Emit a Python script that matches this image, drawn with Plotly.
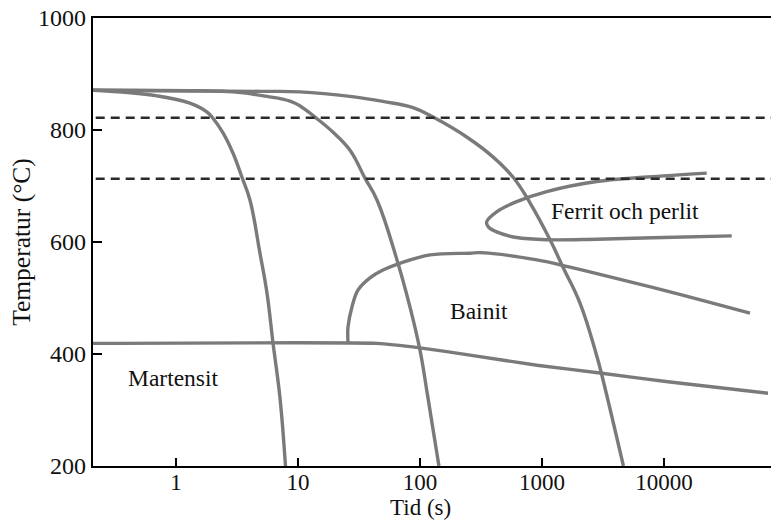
import math
import plotly.graph_objects as go

# Cooling curves (time in s, temperature in °C)
cool_fast_t = [0.209, 0.70, 1.30, 1.80, 2.01, 2.43, 2.93, 3.47, 4.04, 4.88, 5.57, 6.24, 7.11, 7.9]
cool_fast_T = [871, 861, 848, 832, 821, 795, 759, 716, 675, 580, 509, 420, 323, 200]

cool_mid_t = [0.209, 1.5, 2.93, 5.57, 8.5, 10.4, 13.8, 19.4, 26.7, 35.4, 44.4, 64.8, 82.8, 100, 116, 143]
cool_mid_T = [871, 870, 868, 860, 852, 843, 823, 796, 764, 714, 675, 568, 484, 407, 323, 200]

cool_slow_t = [0.209, 5.0, 10.4, 26.7, 49.7, 87.7, 128, 243, 396, 578, 797, 1164, 1486, 2049, 2824, 3162, 4650]
cool_slow_T = [871, 869, 868, 860, 851, 840, 823, 787, 752, 716, 670, 604, 555, 491, 395, 354, 200]

# Ferrite / pearlite transformation C-curve
fp_t = [22400, 9860, 2807, 1093, 620, 425, 352, 363, 425, 620, 1093, 2807, 9860, 35900]
fp_T = [723, 718, 708, 690, 672, 654, 636, 627, 618, 608, 604, 605, 608, 611]

# Bainite start curve
bain_t = [25.7, 25.7, 27.7, 31.0, 38.9, 49.7, 68.6, 121, 257, 310, 910, 1698, 3162, 11200, 50700]
bain_T = [421, 448, 484, 514, 536, 550, 562, 577, 580, 581, 568, 555, 541, 511, 473]

# Martensite start line
mart_t = [0.209, 44.4, 100, 257, 910, 2987, 11200, 71200]
mart_T = [419, 419, 411, 398, 380, 366, 350, 330]

# Critical temperatures (dashed)
crit_T = [822, 713]

# Region labels
region_names = ["Martensit", "Bainit", "Ferrit och perlit"]
region_t = [0.954, 303, 4764]
region_T = [357, 477, 655]

x_ticks = [1, 10, 100, 1000, 10000]
y_ticks = [200, 400, 600, 800, 1000]

curve_color = "#7a7a7a"
font_family = "Liberation Serif, Times New Roman, serif"

fig = go.Figure()


def add_curve(t, T, shape="spline", smoothing=1.2):
    fig.add_trace(go.Scatter(
        x=t, y=T, mode="lines",
        line=dict(color=curve_color, width=3.4, shape=shape, smoothing=smoothing),
        hoverinfo="skip", showlegend=False,
    ))


add_curve(cool_fast_t, cool_fast_T)
add_curve(cool_mid_t, cool_mid_T)
add_curve(cool_slow_t, cool_slow_T)
add_curve(fp_t, fp_T, smoothing=1.0)
add_curve(bain_t, bain_T, smoothing=1.0)
add_curve(mart_t, mart_T, smoothing=0.4)

for T in crit_T:
    fig.add_shape(type="line", xref="paper", x0=0.004, x1=1, yref="y", y0=T, y1=T,
                  line=dict(color="#2a2a2a", width=2.4, dash="9px,6px"), layer="above")

for name, t, T in zip(region_names, region_t, region_T):
    fig.add_annotation(x=math.log10(t), y=T, text=name, showarrow=False,
                       font=dict(family=font_family, size=23.5, color="#111111"),
                       xanchor="center", yanchor="middle")

fig.update_layout(
    width=771, height=522,
    margin=dict(l=93, r=0, t=18, b=56),
    plot_bgcolor="white", paper_bgcolor="white",
    font=dict(family=font_family, size=24, color="#111111"),
    showlegend=False,
    xaxis=dict(
        type="log", range=[-0.68, 4.877],
        tickvals=x_ticks, ticktext=[str(v) for v in x_ticks],
        ticks="inside", ticklen=8, tickwidth=2, tickcolor="black",
        ticklabelstandoff=-6,
        showline=True, linecolor="black", linewidth=2.4, mirror=True,
        showgrid=False, zeroline=False,
        tickfont=dict(size=23),
    ),
    yaxis=dict(
        range=[200, 1000],
        tickvals=y_ticks,
        ticks="inside", ticklen=9, tickwidth=2, tickcolor="black",
        showline=True, linecolor="black", linewidth=2.4,
        showgrid=False, zeroline=False,
        tickfont=dict(size=24),
        title=dict(text="Temperatur (°C)", font=dict(size=25.5), standoff=0),
    ),
)

fig.add_annotation(xref="paper", yref="paper", x=(420 - 93) / 678, y=(466 - 522) / 448,
                   text="Tid (s)", showarrow=False, xanchor="center", yanchor="bottom",
                   font=dict(family=font_family, size=23, color="#111111"))

fig.write_html("out.html")
